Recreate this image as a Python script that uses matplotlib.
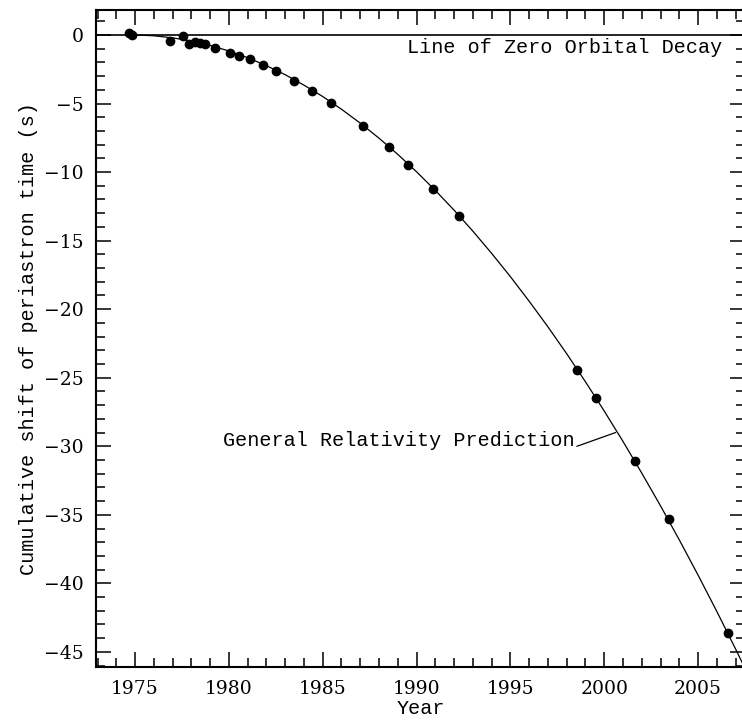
import matplotlib
matplotlib.use("Agg")
import matplotlib.pyplot as plt
from matplotlib.ticker import MultipleLocator, FuncFormatter

obs_year = [1974.70, 1974.85, 1976.86, 1977.54, 1977.88, 1978.20, 1978.46, 1978.73,
            1979.26, 1980.06, 1980.54, 1981.12, 1981.83, 1982.51, 1983.48, 1984.44,
            1985.44, 1987.16, 1988.52, 1989.57, 1990.87, 1992.27, 1998.57, 1999.55,
            2001.62, 2003.43, 2006.59]
obs_shift = [0.15, 0.03, -0.41, -0.07, -0.66, -0.49, -0.61, -0.68,
             -0.93, -1.34, -1.51, -1.78, -2.19, -2.63, -3.36, -4.09,
             -4.94, -6.62, -8.20, -9.49, -11.24, -13.21, -24.45, -26.47,
             -31.10, -35.28, -43.63]

# general relativity prediction curve
gr_year = [1974.8, 1975, 1976, 1977, 1978, 1979, 1980, 1981, 1982, 1983, 1984,
           1985, 1986, 1987, 1988, 1989, 1990, 1991, 1992, 1993, 1994, 1995,
           1996, 1997, 1998, 1999, 2000, 2001, 2002, 2003, 2004, 2005, 2006,
           2007, 2008]
gr_shift = [0.0, -0.00, -0.06, -0.21, -0.44, -0.76, -1.17, -1.66, -2.24, -2.90, -3.66,
            -4.49, -5.42, -6.43, -7.53, -8.71, -9.98, -11.34, -12.78, -14.31, -15.93, -17.63,
            -19.42, -21.29, -23.25, -25.30, -27.43, -29.65, -31.96, -34.35, -36.83, -39.40, -42.05,
            -44.79, -47.62]

plt.rcParams['font.family'] = ['Liberation Mono', 'DejaVu Sans Mono']
fs = 14.5

fig = plt.figure(figsize=(7.42, 7.22), dpi=100)
ax = fig.add_axes([96/742, 1-667/722, (745-96)/742, (667-10)/722])

ax.axhline(0, color='black', lw=1.2)
ax.plot(gr_year, gr_shift, color='black', lw=0.9)
ax.plot(obs_year, obs_shift, 'o', color='black', ms=6)

ax.text(2006.3, -0.95, 'Line of Zero Orbital Decay', ha='right', va='center', fontsize=fs)
ax.text(1989.07, -29.56, 'General Relativity Prediction', ha='center', va='center', fontsize=fs)
ax.plot([1998.55, 2000.6], [-30.0, -29.0], color='black', lw=0.9)

ax.set_xlim(1972.92, 2007.5)
ax.set_ylim(-46.1, 1.82)
ax.xaxis.set_major_locator(MultipleLocator(5))
ax.xaxis.set_minor_locator(MultipleLocator(1))
ax.yaxis.set_major_locator(MultipleLocator(5))
ax.yaxis.set_minor_locator(MultipleLocator(1))
ax.tick_params(which='both', direction='in', top=True, right=True, width=1.1, labelsize=13.5)
ax.tick_params(which='major', length=11, pad=9)
ax.tick_params(which='minor', length=6.5)
ax.yaxis.set_major_formatter(FuncFormatter(lambda v, p: '%d' % v if v >= 0 else '\u2212%d' % -v))
for lab in ax.get_xticklabels() + ax.get_yticklabels():
    lab.set_family('DejaVu Serif')
for s in ax.spines.values():
    s.set_linewidth(1.5)

ax.set_xlabel('Year', fontsize=fs, labelpad=1)
ax.set_ylabel('Cumulative shift of periastron time (s)', fontsize=fs, labelpad=4)

fig.savefig('out.png', dpi=100)
